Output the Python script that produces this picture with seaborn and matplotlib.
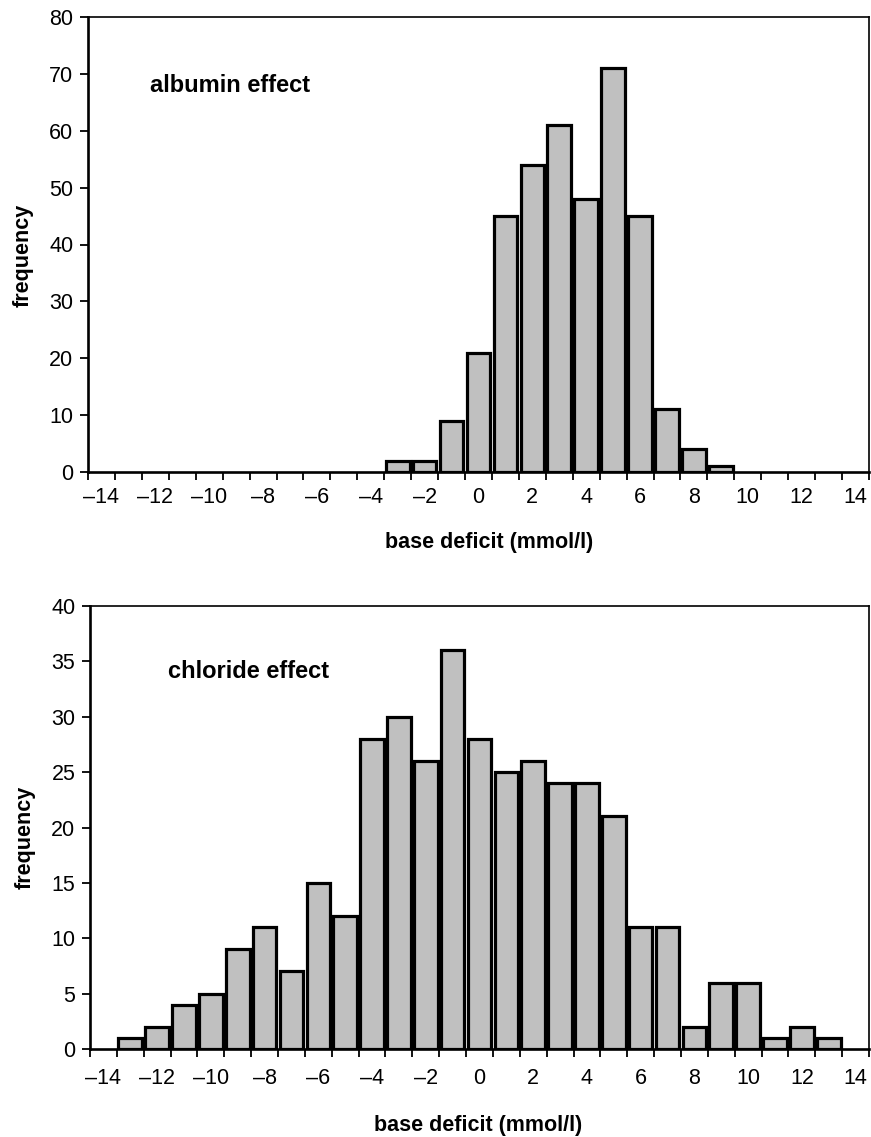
import matplotlib
matplotlib.use("Agg")
import matplotlib.pyplot as plt
from matplotlib.ticker import FixedLocator
import seaborn as sns
import pandas as pd

# ---- data ----
categories = list(range(-14, 15))
tick_labels = ["\u201314", "\u201312", "\u201310", "\u20138", "\u20136", "\u20134", "\u20132",
               "0", "2", "4", "6", "8", "10", "12", "14"]

albumin_bd = [-3, -2, -1, 0, 1, 2, 3, 4, 5, 6, 7, 8, 9]
albumin_freq = [2, 2, 9, 21, 45, 54, 61, 48, 71, 45, 11, 4, 1]

chloride_bd = list(range(-13, 14))
chloride_freq = [1, 2, 4, 5, 9, 11, 7, 15, 12,
                 28, 30, 26, 36,
                 28, 25, 26, 24, 24, 21,
                 11, 11, 2, 6, 6, 1, 2, 1]

sns.set_style("white")
plt.rcParams["font.family"] = ["Liberation Sans", "DejaVu Sans"]
plt.rcParams.update({"text.color": "black", "axes.labelcolor": "black",
                     "xtick.color": "black", "ytick.color": "black"})

W, H = 871, 1137
fig = plt.figure(figsize=(W / 100, H / 100), dpi=100)

panels = [
    dict(bd=albumin_bd, freq=albumin_freq, text="albumin effect", ymax=80, ystep=10,
         box=(88, 17, 869, 472), text_xy=(1.8, 68), pad=10.5, xlab=(0.513, -0.154)),
    dict(bd=chloride_bd, freq=chloride_freq, text="chloride effect", ymax=40, ystep=5,
         box=(90, 606, 869, 1049), text_xy=(2.4, 34.1), pad=14, xlab=(0.498, -0.1716)),
]

for p in panels:
    l, t, r, b = p["box"]
    ax = fig.add_axes([l / W, 1 - b / H, (r - l) / W, (b - t) / H])
    df = pd.DataFrame({"bd": p["bd"], "freq": p["freq"]})
    sns.barplot(data=df, x="bd", y="freq", order=categories, color="#C0C0C0",
                saturation=1, edgecolor="black", linewidth=2.3, width=0.88,
                errorbar=None, ax=ax)
    ax.set_xlim(-0.5, len(categories) - 0.5)
    ax.set_ylim(0, p["ymax"])
    ax.set_yticks(range(0, p["ymax"] + 1, p["ystep"]))
    ax.tick_params(axis="y", direction="out", length=5.5, width=1.3, labelsize=15.5,
                   pad=5, left=True, colors="black")
    # x: labels at every other category, tick marks between categories
    ax.set_xticks(list(range(0, len(categories), 2)))
    ax.set_xticklabels(tick_labels)
    ax.xaxis.set_minor_locator(FixedLocator([i - 0.5 for i in range(len(categories) + 1)]))
    ax.tick_params(axis="x", which="major", length=0, labelsize=15.5, pad=p["pad"])
    ax.tick_params(axis="x", which="minor", direction="out", length=5.5, width=1.3,
                   bottom=True, colors="black")
    for s, lw in [("left", 1.9), ("bottom", 1.9), ("top", 1.2), ("right", 1.2)]:
        ax.spines[s].set_visible(True)
        ax.spines[s].set_color("black")
        ax.spines[s].set_linewidth(lw)
    ax.set_xlabel("base deficit (mmol/l)", fontsize=15.5, fontweight="bold", color="black")
    ax.xaxis.set_label_coords(p["xlab"][0], p["xlab"][1])
    ax.xaxis.label.set_va("center")
    ax.set_ylabel("frequency", fontsize=15.5, fontweight="bold", color="black")
    ax.yaxis.set_label_coords(-0.083, 0.477)
    ax.yaxis.label.set_va("center")
    ax.text(p["text_xy"][0], p["text_xy"][1], p["text"], fontsize=17, fontweight="bold",
            ha="left", va="center", color="black")
    ax.grid(False)

fig.savefig("out.png", dpi=100)
